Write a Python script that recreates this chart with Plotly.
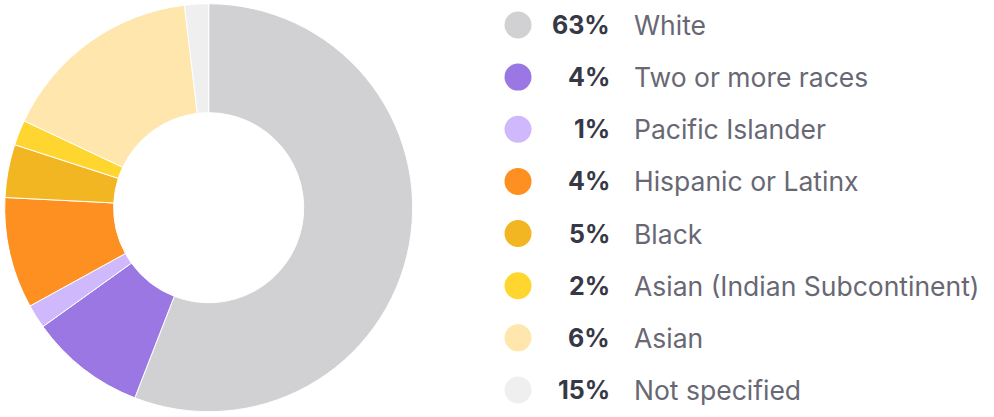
import plotly.graph_objects as go

# slice data (share of the circle, %)
categories = ["White", "Two or more races", "Pacific Islander", "Hispanic or Latinx",
              "Black", "Asian (Indian Subcontinent)", "Asian", "Not specified"]
slice_values = [55.9, 9.2, 1.9, 8.8, 4.2, 2.0, 16.1, 1.9]
# percentages as printed in the legend
legend_pct = ["63%", "4%", "1%", "4%", "5%", "2%", "6%", "15%"]
colors = ["#D1D1D3", "#9B77E4", "#D0B8FC", "#FD9021",
          "#F3B623", "#FFD630", "#FEE6AC", "#EFEFEF"]

rows = list(range(len(categories)))

fig = go.Figure()

# the donut
fig.add_trace(go.Pie(
    labels=categories,
    values=slice_values,
    sort=False,
    direction="clockwise",
    rotation=0,
    hole=0.466,
    marker=dict(colors=colors, line=dict(color="white", width=1)),
    textinfo="none",
    hoverinfo="label+percent",
    showlegend=False,
    domain=dict(x=[0.0047, 0.4152], y=[0.0127, 0.991]),
))

# custom legend dots
fig.add_trace(go.Scatter(
    x=[518] * len(rows),
    y=rows,
    mode="markers",
    marker=dict(size=27, color=colors),
    hoverinfo="skip",
    showlegend=False,
))

# legend texts
for i, (pct, name) in enumerate(zip(legend_pct, categories)):
    fig.add_annotation(x=612, y=i, xref="x", yref="y", text="<b>" + pct + "</b>",
                       showarrow=False, xanchor="right", yanchor="middle",
                       font=dict(family="Inter", size=25, color="#373845"))
    fig.add_annotation(x=632, y=i, xref="x", yref="y", text=name,
                       showarrow=False, xanchor="left", yanchor="middle",
                       font=dict(family="Inter", size=26.5, color="#686874"))

fig.update_layout(
    width=994, height=417,
    margin=dict(l=0, r=0, t=0, b=0),
    paper_bgcolor="white", plot_bgcolor="white",
    xaxis=dict(range=[0, 994], visible=False, fixedrange=True),
    yaxis=dict(range=[7.518, -0.479], visible=False, fixedrange=True),
)

# drop the browser's default page margin so the figure sits at the corner
fig.write_html("out.html", config={"displayModeBar": False},
               post_script="document.body.style.margin='0';")
